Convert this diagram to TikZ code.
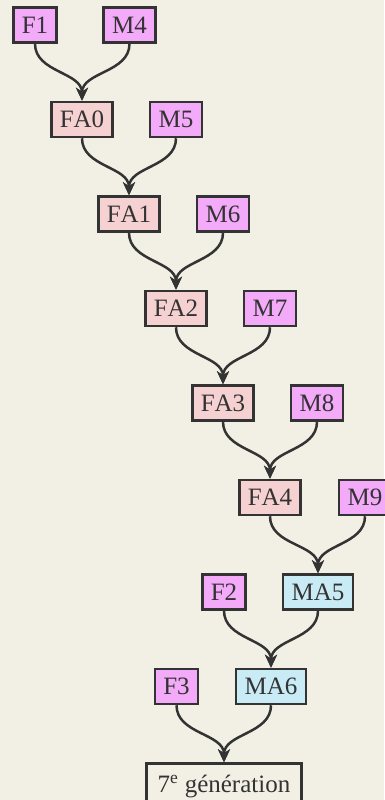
\documentclass[tikz,border=0pt]{standalone}
\usepackage{fontspec}
\setmainfont[Kerning=Off]{Liberation Serif}
\usetikzlibrary{arrows.meta}
\definecolor{bgc}{HTML}{F2F0E5}
\definecolor{magc}{HTML}{F2AAF9}
\definecolor{pinkc}{HTML}{F5D1D1}
\definecolor{bluec}{HTML}{C9EBF5}
\definecolor{inkc}{HTML}{333333}
\begin{document}
\begin{tikzpicture}[x=1pt,y=-1pt,
  box/.style={draw=inkc,line width=2.5pt,minimum height=35pt,inner xsep=8.5pt,inner ysep=0pt,
    font=\fontsize{25}{30}\selectfont,text=inkc},
  mbox/.style={box,fill=magc},
  fbox/.style={box,fill=pinkc},
  abox/.style={box,fill=bluec},
  gbox/.style={box,inner xsep=11pt,minimum height=46pt,anchor=north},
  link/.style={draw=inkc,line width=2.5pt,-{Stealth[length=13pt,width=12pt,inset=4pt]}}]
\fill[bgc] (0,0) rectangle (384,800);
\useasboundingbox (0,0) rectangle (384,800);
\node[mbox] (F1) at (35,25) {F1};
\node[mbox] (M4) at (129.5,25) {M4};
\node[fbox] (FA0) at (82,119.5) {FA0};
\node[mbox] (M5) at (176,119.5) {M5};
\node[fbox] (FA1) at (129,214) {FA1};
\node[mbox] (M6) at (223,214) {M6};
\node[fbox] (FA2) at (176,308.5) {FA2};
\node[mbox] (M7) at (270,308.5) {M7};
\node[fbox] (FA3) at (223,403) {FA3};
\node[mbox] (M8) at (317,403) {M8};
\node[fbox] (FA4) at (270,497.5) {FA4};
\node[mbox] (M9) at (365,497.5) {M9};
\node[mbox] (F2) at (224,592) {F2};
\node[abox] (MA5) at (318,592) {MA5};
\node[mbox] (F3) at (176.5,686.5) {F3};
\node[abox] (MA6) at (271,686.5) {MA6};
\node[gbox] (G7) at (224,762.25) {7\textsuperscript{e} génération};
\foreach \a/\b/\c in {F1/M4/FA0, FA0/M5/FA1, FA1/M6/FA2, FA2/M7/FA3, FA3/M8/FA4, FA4/M9/MA5, F2/MA5/MA6, F3/MA6/G7}{
  \draw[link] (\a.south) to[out=-90,in=90] (\c.north);
  \draw[link] (\b.south) to[out=-90,in=90] (\c.north);
}
\end{tikzpicture}
\end{document}
